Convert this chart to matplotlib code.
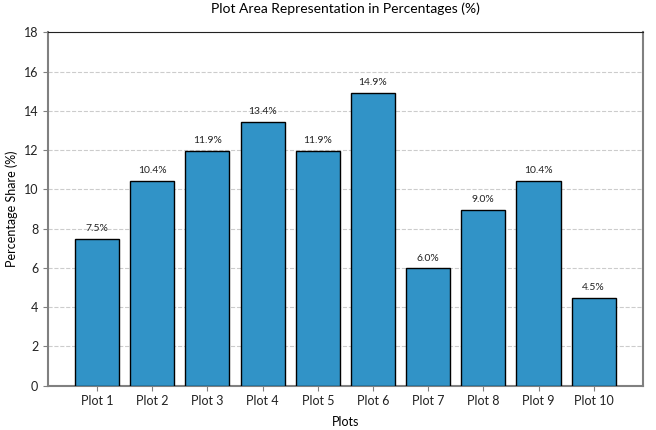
import matplotlib
matplotlib.use("Agg")
import matplotlib.pyplot as plt

plt.rcParams['font.family'] = ['Lato', 'DejaVu Sans']

plots = ["Plot 1", "Plot 2", "Plot 3", "Plot 4", "Plot 5",
         "Plot 6", "Plot 7", "Plot 8", "Plot 9", "Plot 10"]
share = [7.46, 10.45, 11.94, 13.43, 11.94, 14.93, 5.97, 8.96, 10.45, 4.48]

fig, ax = plt.subplots(figsize=(6.56, 4.3), dpi=100)
fig.subplots_adjust(left=0.073, right=0.98, top=0.925, bottom=0.103)

bars = ax.bar(plots, share, width=0.8, color="#3193c7", edgecolor="black",
              linewidth=1, zorder=3)

# value labels on top
for b, v in zip(bars, share):
    ax.text(b.get_x() + b.get_width() / 2, v + 0.3, f"{v:.1f}%",
            ha="center", va="bottom", fontsize=7.5, color="#222222")

ax.set_ylim(0, 18)
ax.set_yticks(range(0, 19, 2))
ax.grid(axis="y", linestyle="--", color="#cccccc", linewidth=0.8, zorder=0)

ax.set_title("Plot Area Representation in Percentages (%)", fontsize=10, pad=14)
ax.set_xlabel("Plots", fontsize=9, labelpad=6)
ax.set_ylabel("Percentage Share (%)", fontsize=9)
ax.tick_params(labelsize=9, colors="#222222")
ax.tick_params(axis="both", color="#808080")

for s in ["left", "bottom", "right"]:
    ax.spines[s].set_color("#808080")
    ax.spines[s].set_linewidth(1.5)
ax.spines["top"].set_color("#222222")

fig.savefig("out.png", dpi=100)
